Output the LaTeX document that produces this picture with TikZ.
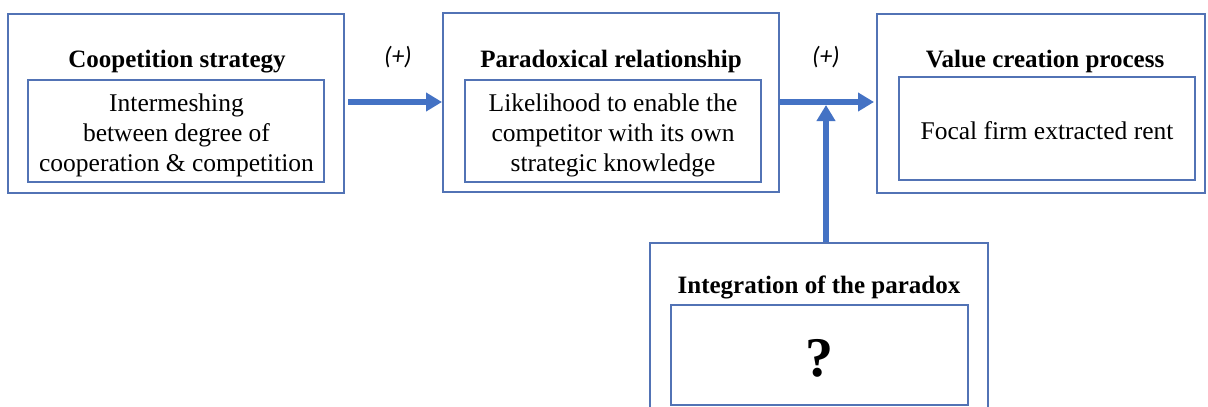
\documentclass[tikz,border=0pt]{standalone}
\usepackage{fontspec}
\setmainfont{Liberation Serif}
\newfontfamily\labfont{Carlito}
\usetikzlibrary{arrows.meta}
\definecolor{boxblue}{HTML}{5273B5}
\definecolor{arrblue}{HTML}{4472C4}
\tikzset{
  outerbox/.style={draw=boxblue,line width=1.4pt,inner sep=0pt,minimum width=#1},
  innerbox/.style={draw=boxblue,line width=1.4pt,inner sep=0pt},
  bodytext/.style={inner sep=0pt,align=center,font=\fontsize{25.5}{30}\selectfont},
  titletext/.style={anchor=base,inner sep=0pt,font=\fontsize{25}{30}\selectfont\bfseries},
  signtext/.style={inner sep=0pt,font=\labfont\itshape\fontsize{25}{28}\selectfont},
  arr/.style={arrblue,line width=6pt,-{Triangle[length=16pt,width=18pt]}}
}
\begin{document}
\begin{tikzpicture}[x=1pt,y=-1pt]
\clip (0,0) rectangle (1208,407);
\fill[white] (0,0) rectangle (1208,407);
% outer boxes
\node[outerbox=336pt,minimum height=179pt] (b1) at (176,103.5) {};
\node[outerbox=336pt,minimum height=179pt] (b2) at (611,102.5) {};
\node[outerbox=328pt,minimum height=179pt] (b3) at (1041,103.5) {};
\node[outerbox=338pt,minimum height=177pt] (b4) at (819,331.5) {};
% titles
\node[titletext] (t1) at (177,67) {Coopetition strategy};
\node[titletext] (t2) at (611,67) {Paradoxical relationship};
\node[titletext] (t3) at (1045,67) {Value creation process};
\node[titletext] (t4) at (819,293) {Integration of the paradox};
% inner boxes
\node[innerbox,minimum width=296pt,minimum height=102pt] (i1) at (176,131) {};
\node[innerbox,minimum width=296pt,minimum height=102pt] (i2) at (613,131) {};
\node[innerbox,minimum width=296pt,minimum height=103pt] (i3) at (1047,128.5) {};
\node[innerbox,minimum width=297pt,minimum height=100pt] (i4) at (819.5,355) {};
% inner texts
\node[bodytext] (x1) at (176.5,135) {Intermeshing\\between degree of\\cooperation \& competition};
\node[bodytext] (x2) at (613,135) {Likelihood to enable the\\competitor with its own\\strategic knowledge};
\node[bodytext] (x3) at (1047,131) {Focal firm extracted rent};
\node[inner sep=0pt,font=\fontsize{56}{60}\selectfont\bfseries] (x4) at (819,358) {?};
% signs
\node[signtext] (s1) at (398,57) {(+)};
\node[signtext] (s2) at (826,57) {(+)};
% arrows
\coordinate (a1s) at (348,102);
\coordinate (a1e) at (442,102);
\coordinate (a2s) at (779,102);
\coordinate (a2e) at (874,102);
\coordinate (j) at (826,105);
\draw[arr] (a1s) -- (a1e);
\draw[arr] (a2s) -- (a2e);
\draw[arr] (b4.north -| j) -- (j);
\end{tikzpicture}
\end{document}
